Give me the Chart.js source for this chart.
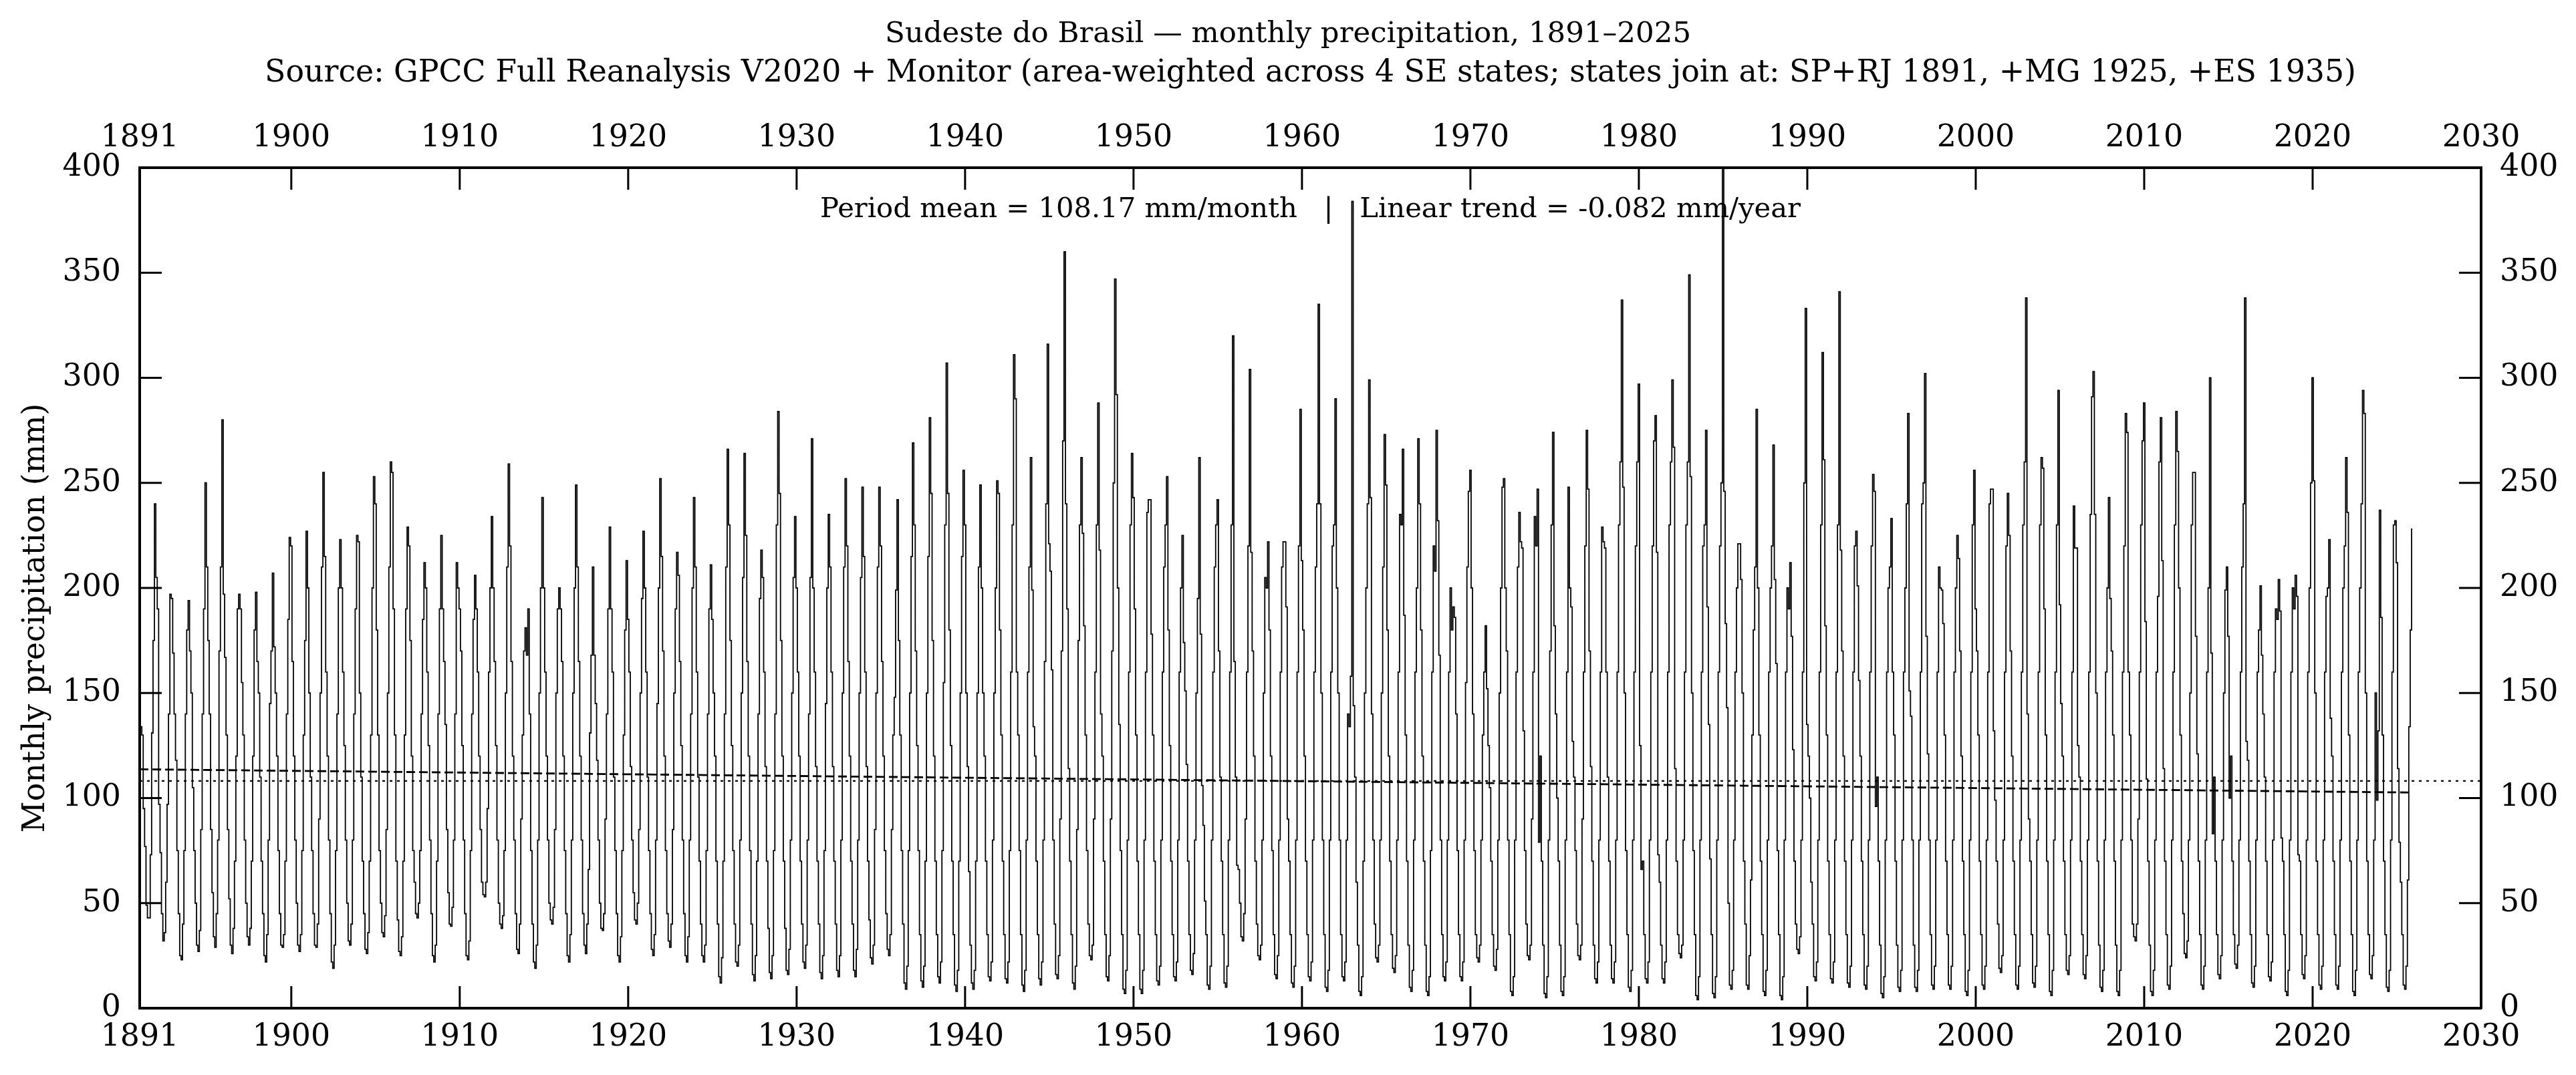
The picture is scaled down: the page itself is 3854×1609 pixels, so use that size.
<!DOCTYPE html>
<html>
<head>
<meta charset="utf-8">
<script src="https://cdn.jsdelivr.net/npm/chart.js@4.4.1/dist/chart.umd.min.js"></script>
<style>
  html, body { margin: 0; padding: 0; background: #fff; }
</style>
</head>
<body>
<canvas id="precipChart" width="3854" height="1609"></canvas>
<script>
// Monthly precipitation (mm), one row per year, Jan..Dec
const firstYear = 1891;

const precip1891to1920 = [
  [175, 134, 130, 95, 77, 49, 43, 43, 73, 131, 175, 240],
  [205, 190, 97, 74, 45, 32, 36, 60, 97, 140, 197, 195],
  [169, 140, 118, 75, 45, 25, 23, 40, 75, 140, 180, 194],
  [170, 150, 105, 75, 50, 30, 27, 37, 85, 140, 190, 250],
  [210, 175, 140, 85, 55, 34, 29, 45, 80, 170, 210, 280],
  [197, 167, 130, 85, 52, 30, 26, 38, 70, 120, 190, 197],
  [190, 155, 130, 80, 50, 34, 30, 38, 70, 120, 180, 198],
  [165, 150, 110, 70, 45, 25, 22, 35, 80, 145, 170, 207],
  [172, 150, 120, 75, 45, 30, 29, 35, 70, 140, 185, 224],
  [220, 165, 120, 80, 50, 30, 27, 35, 75, 130, 175, 227],
  [200, 150, 110, 75, 45, 30, 29, 40, 90, 150, 210, 255],
  [215, 160, 120, 80, 45, 22, 19, 30, 75, 140, 200, 223],
  [200, 160, 125, 80, 50, 32, 30, 40, 80, 140, 190, 225],
  [222, 150, 110, 70, 45, 28, 26, 36, 70, 130, 200, 253],
  [240, 180, 130, 75, 50, 36, 34, 44, 85, 150, 210, 260],
  [255, 190, 130, 70, 42, 27, 25, 34, 70, 130, 190, 229],
  [220, 175, 120, 75, 60, 45, 43, 50, 75, 140, 185, 212],
  [200, 160, 125, 80, 45, 25, 22, 30, 70, 140, 190, 225],
  [190, 165, 135, 85, 55, 40, 39, 48, 80, 140, 212, 200],
  [190, 170, 125, 80, 45, 25, 23, 32, 75, 140, 185, 206],
  [190, 160, 120, 85, 60, 54, 53, 60, 95, 160, 200, 234],
  [200, 165, 125, 80, 50, 40, 38, 44, 75, 150, 210, 259],
  [220, 165, 120, 80, 45, 28, 26, 40, 90, 130, 170, 181],
  [168, 190, 140, 75, 40, 22, 19, 30, 80, 150, 200, 243],
  [200, 160, 120, 80, 50, 42, 40, 48, 85, 150, 190, 200],
  [190, 165, 120, 75, 45, 25, 22, 35, 80, 150, 200, 249],
  [210, 165, 120, 80, 45, 30, 26, 40, 66, 131, 168, 210],
  [168, 145, 118, 80, 50, 38, 37, 45, 90, 140, 190, 229],
  [190, 160, 110, 75, 45, 25, 22, 34, 75, 130, 180, 213],
  [185, 160, 115, 80, 55, 42, 40, 50, 85, 150, 195, 227]
];

const precip1921to1950 = [
  [200, 160, 110, 75, 45, 28, 25, 35, 80, 145, 200, 252],
  [215, 170, 120, 75, 45, 32, 29, 40, 85, 150, 190, 217],
  [206, 165, 125, 80, 45, 25, 22, 34, 80, 140, 200, 243],
  [210, 160, 110, 70, 40, 25, 22, 30, 75, 140, 190, 211],
  [185, 150, 120, 70, 40, 15, 12, 24, 70, 140, 210, 266],
  [230, 175, 125, 75, 40, 22, 20, 30, 80, 150, 205, 264],
  [225, 165, 120, 75, 40, 16, 13, 25, 70, 140, 195, 218],
  [205, 160, 115, 70, 38, 17, 14, 25, 75, 140, 230, 284],
  [245, 175, 120, 70, 38, 18, 16, 28, 80, 150, 205, 234],
  [200, 160, 120, 70, 40, 22, 19, 30, 80, 140, 205, 271],
  [200, 160, 115, 70, 40, 17, 14, 25, 75, 145, 200, 235],
  [210, 160, 115, 70, 40, 18, 15, 25, 80, 150, 210, 252],
  [220, 165, 120, 70, 40, 18, 15, 28, 80, 150, 205, 248],
  [215, 160, 115, 70, 42, 24, 21, 30, 85, 150, 210, 248],
  [220, 165, 120, 75, 45, 28, 25, 35, 85, 130, 148, 199],
  [242, 175, 130, 75, 40, 12, 9, 20, 75, 150, 215, 269],
  [230, 170, 125, 75, 35, 13, 10, 20, 70, 150, 215, 281],
  [245, 175, 120, 70, 35, 15, 12, 22, 75, 155, 230, 307],
  [245, 180, 125, 70, 35, 11, 8, 18, 70, 150, 215, 256],
  [230, 150, 115, 65, 30, 12, 9, 18, 70, 150, 210, 249],
  [200, 150, 120, 70, 35, 15, 13, 22, 80, 150, 200, 251],
  [245, 180, 130, 70, 35, 14, 12, 22, 75, 160, 230, 311],
  [290, 160, 130, 75, 35, 11, 8, 18, 80, 160, 210, 262],
  [199, 134, 120, 70, 35, 14, 11, 22, 80, 165, 240, 316],
  [221, 208, 161, 80, 40, 16, 14, 25, 90, 170, 270, 360],
  [240, 190, 114, 70, 35, 12, 9, 20, 85, 175, 230, 262],
  [226, 182, 130, 75, 40, 25, 23, 30, 90, 160, 230, 288],
  [218, 140, 120, 70, 35, 15, 13, 25, 90, 170, 250, 347],
  [292, 200, 135, 75, 35, 9, 7, 18, 80, 160, 230, 264],
  [243, 190, 130, 70, 35, 9, 7, 18, 80, 160, 236, 242]
];

const precip1951to1980 = [
  [242, 178, 130, 70, 35, 13, 11, 20, 80, 160, 210, 230],
  [253, 180, 125, 70, 35, 15, 13, 22, 80, 160, 200, 225],
  [174, 151, 116, 70, 35, 18, 16, 26, 80, 150, 195, 262],
  [178, 106, 87, 51, 35, 11, 9, 20, 80, 160, 210, 230],
  [242, 170, 110, 70, 35, 12, 10, 20, 80, 160, 230, 320],
  [165, 110, 68, 66, 50, 34, 32, 45, 90, 160, 220, 304],
  [217, 170, 120, 70, 40, 25, 23, 30, 80, 150, 205, 200],
  [222, 180, 120, 75, 35, 16, 14, 25, 80, 160, 210, 222],
  [222, 191, 90, 70, 35, 12, 10, 20, 80, 160, 220, 285],
  [213, 180, 120, 70, 35, 15, 13, 22, 80, 160, 210, 240],
  [335, 240, 150, 80, 35, 10, 8, 18, 80, 160, 220, 230],
  [290, 200, 150, 80, 35, 15, 13, 22, 80, 140, 134, 158],
  [384, 144, 110, 60, 30, 8, 6, 15, 70, 150, 200, 240],
  [299, 243, 140, 80, 40, 24, 22, 30, 80, 150, 210, 273],
  [249, 180, 120, 70, 35, 19, 17, 25, 80, 160, 235, 230],
  [266, 187, 130, 70, 30, 10, 8, 18, 80, 160, 200, 271],
  [240, 180, 120, 70, 30, 8, 6, 15, 75, 160, 220, 208],
  [275, 232, 168, 80, 35, 15, 13, 22, 80, 160, 200, 180],
  [191, 186, 140, 75, 35, 15, 13, 22, 80, 155, 210, 246],
  [256, 200, 140, 75, 35, 24, 22, 30, 80, 130, 160, 182],
  [152, 125, 105, 70, 35, 20, 18, 28, 80, 150, 200, 248],
  [252, 200, 170, 80, 35, 8, 6, 15, 80, 160, 210, 236],
  [222, 219, 132, 75, 40, 25, 23, 30, 90, 160, 234, 220],
  [247, 79, 120, 70, 30, 7, 5, 15, 80, 170, 230, 274],
  [182, 140, 100, 70, 30, 8, 6, 15, 80, 160, 248, 200],
  [191, 127, 110, 75, 40, 25, 23, 30, 90, 160, 220, 275],
  [247, 170, 115, 70, 30, 14, 12, 22, 80, 160, 229, 222],
  [219, 160, 110, 70, 30, 14, 12, 22, 80, 160, 230, 260],
  [337, 248, 150, 75, 35, 10, 8, 18, 80, 160, 220, 260],
  [297, 125, 66, 70, 35, 14, 12, 22, 80, 160, 220, 270]
];

const precip1981to2010 = [
  [282, 217, 73, 60, 30, 14, 12, 22, 80, 160, 230, 260],
  [299, 267, 114, 70, 35, 26, 24, 30, 80, 160, 230, 260],
  [349, 253, 150, 75, 35, 6, 4, 15, 80, 160, 220, 230],
  [275, 191, 135, 71, 35, 7, 5, 15, 80, 160, 220, 250],
  [405, 246, 183, 143, 50, 11, 9, 18, 80, 160, 200, 221],
  [221, 204, 150, 70, 40, 11, 9, 25, 61, 130, 180, 210],
  [285, 200, 130, 70, 35, 8, 6, 18, 80, 160, 200, 220],
  [268, 204, 164, 75, 35, 6, 4, 15, 80, 160, 200, 190],
  [212, 177, 123, 70, 40, 28, 26, 34, 80, 160, 250, 333],
  [135, 120, 100, 60, 40, 15, 13, 22, 80, 160, 230, 312],
  [261, 182, 130, 70, 35, 14, 12, 22, 80, 160, 230, 341],
  [218, 170, 120, 70, 35, 12, 10, 20, 80, 160, 220, 227],
  [201, 156, 120, 70, 35, 11, 9, 20, 80, 160, 220, 254],
  [246, 96, 110, 70, 30, 7, 5, 15, 80, 160, 200, 210],
  [233, 160, 130, 70, 30, 10, 8, 18, 80, 160, 200, 240],
  [283, 151, 139, 80, 30, 10, 8, 18, 80, 160, 240, 250],
  [302, 177, 121, 80, 35, 11, 9, 20, 80, 160, 210, 200],
  [199, 183, 130, 70, 35, 11, 9, 20, 80, 160, 200, 225],
  [214, 170, 120, 70, 35, 8, 6, 18, 80, 160, 230, 256],
  [190, 170, 130, 70, 35, 11, 9, 20, 80, 160, 240, 247],
  [247, 132, 99, 70, 40, 19, 17, 25, 80, 160, 220, 245],
  [225, 170, 120, 70, 35, 11, 9, 20, 80, 160, 230, 260],
  [338, 140, 90, 70, 35, 12, 10, 20, 80, 160, 230, 262],
  [257, 190, 130, 70, 35, 8, 6, 18, 80, 160, 230, 294],
  [192, 145, 120, 70, 35, 18, 16, 25, 80, 160, 239, 219],
  [219, 125, 110, 70, 35, 16, 14, 25, 80, 160, 235, 291],
  [303, 235, 150, 70, 30, 10, 8, 18, 80, 160, 200, 243],
  [195, 170, 130, 70, 30, 8, 6, 18, 80, 160, 220, 283],
  [274, 160, 130, 80, 40, 34, 32, 40, 90, 160, 230, 270],
  [288, 184, 109, 70, 30, 8, 6, 18, 80, 160, 196, 260]
];

const precip2011to2025 = [
  [281, 213, 114, 70, 35, 11, 9, 20, 80, 160, 230, 284],
  [265, 200, 130, 70, 45, 26, 24, 32, 80, 150, 230, 255],
  [255, 177, 121, 70, 35, 11, 9, 20, 80, 160, 200, 300],
  [169, 83, 110, 70, 35, 16, 14, 25, 80, 150, 199, 210],
  [177, 100, 120, 70, 35, 21, 19, 30, 80, 160, 210, 240],
  [338, 127, 118, 70, 35, 12, 10, 20, 80, 160, 180, 201],
  [168, 140, 110, 70, 35, 15, 13, 22, 80, 160, 190, 185],
  [204, 189, 81, 70, 35, 8, 6, 18, 80, 160, 200, 190],
  [206, 196, 73, 70, 35, 16, 14, 25, 80, 160, 200, 250],
  [300, 251, 150, 70, 35, 11, 9, 20, 80, 160, 196, 200],
  [223, 138, 120, 70, 35, 11, 9, 20, 80, 160, 200, 220],
  [262, 236, 130, 70, 35, 8, 6, 18, 80, 160, 200, 240],
  [294, 283, 150, 70, 35, 16, 14, 25, 80, 150, 99, 132],
  [237, 186, 130, 70, 35, 10, 8, 18, 80, 160, 230, 232],
  [212, 114, 79, 60, 35, 11, 9, 20, 61, 134, 180, 228]
];

const periodMean = 108.17;   // mm/month
const trendSlope = -0.082;   // mm/year
const xTickYears = [1891, 1900, 1910, 1920, 1930, 1940, 1950, 1960, 1970, 1980, 1990, 2000, 2010, 2020, 2030];
const yTickValues = [0, 50, 100, 150, 200, 250, 300, 350, 400];

const titleMain = 'Sudeste do Brasil \u2014 monthly precipitation, 1891\u20132025';
const titleSource = 'Source: GPCC Full Reanalysis V2020 + Monitor (area-weighted across 4 SE states; states join at: SP+RJ 1891, +MG 1925, +ES 1935)';
const statsNote = 'Period mean = 108.17 mm/month   |   Linear trend = -0.082 mm/year';
const yTitle = 'Monthly precipitation (mm)';

// Build monthly points
const allRows = [].concat(precip1891to1920, precip1921to1950, precip1951to1980, precip1981to2010, precip2011to2025);
const points = [];
allRows.forEach((row, i) => {
  row.forEach((v, m) => points.push({ x: firstYear + i + m / 12, y: v }));
});

const lastX = points[points.length - 1].x;
const midX = (firstYear + lastX) / 2;
const meanPoints = [{ x: 1891, y: periodMean }, { x: 2030, y: periodMean }];
const trendPoints = [
  { x: firstYear, y: periodMean + trendSlope * (firstYear - midX) },
  { x: lastX, y: periodMean + trendSlope * (lastX - midX) }
];

const FONT = 'DejaVu Serif';
const tickFont = { family: FONT, size: 45.8 };

// inward tick marks on all four sides
const inwardTicks = {
  id: 'inwardTicks',
  afterDatasetsDraw(chart) {
    const { ctx, chartArea: a, scales } = chart;
    ctx.save();
    ctx.strokeStyle = '#000';
    ctx.lineWidth = 3;
    ctx.beginPath();
    xTickYears.forEach(v => {
      const px = scales.x.getPixelForValue(v);
      ctx.moveTo(px, a.bottom); ctx.lineTo(px, a.bottom - 33);
      ctx.moveTo(px, a.top); ctx.lineTo(px, a.top + 33);
    });
    yTickValues.forEach(v => {
      const py = scales.y.getPixelForValue(v);
      ctx.moveTo(a.left, py); ctx.lineTo(a.left + 33, py);
      ctx.moveTo(a.right, py); ctx.lineTo(a.right - 33, py);
    });
    ctx.stroke();
    ctx.restore();
  }
};

// titles, note and y label
const textLayer = {
  id: 'textLayer',
  afterDraw(chart) {
    const { ctx, chartArea: a, width } = chart;
    ctx.save();
    ctx.fillStyle = '#000';
    ctx.textAlign = 'center';
    ctx.textBaseline = 'middle';
    ctx.font = '43.5px "' + FONT + '"';
    ctx.fillText(titleMain, width / 2, 52);
    ctx.font = '45.8px "' + FONT + '"';
    ctx.fillText(titleSource, (a.left + a.right) / 2, 110);
    ctx.font = '41.7px "' + FONT + '"';
    ctx.fillText(statsNote, (a.left + a.right) / 2, 314);
    ctx.font = '45.8px "' + FONT + '"';
    ctx.translate(54, 925);
    ctx.rotate(-Math.PI / 2);
    ctx.fillText(yTitle, 0, 0);
    ctx.restore();
  }
};

function axisCommon(extra) {
  return Object.assign({
    grid: { display: false, drawTicks: false },
    border: { display: true, color: '#000', width: 4 }
  }, extra);
}

const ctx = document.getElementById('precipChart').getContext('2d');
new Chart(ctx, {
  type: 'line',
  data: {
    datasets: [
      { data: points, borderColor: '#000', borderWidth: 1.8, pointRadius: 0, stepped: 'middle', fill: false, xAxisID: 'x', yAxisID: 'y' },
      { data: meanPoints, borderColor: '#000', borderWidth: 2.2, borderDash: [4, 7], pointRadius: 0, fill: false, xAxisID: 'x', yAxisID: 'y' },
      { data: trendPoints, borderColor: '#000', borderWidth: 2.8, borderDash: [13, 6], pointRadius: 0, fill: false, xAxisID: 'x', yAxisID: 'y' }
    ]
  },
  options: {
    responsive: false,
    animation: false,
    devicePixelRatio: 1,
    layout: { padding: 0 },
    plugins: { legend: { display: false }, tooltip: { enabled: false }, title: { display: false } },
    scales: {
      x: axisCommon({
        type: 'linear', position: 'bottom', min: 1891, max: 2030,
        afterBuildTicks: s => { s.ticks = xTickYears.map(v => ({ value: v })); },
        afterFit: s => { s.height = 100; },
        ticks: { font: tickFont, color: '#000', maxRotation: 0, autoSkip: false, padding: 17, callback: v => String(v) }
      }),
      x2: axisCommon({
        type: 'linear', position: 'top', min: 1891, max: 2030,
        afterBuildTicks: s => { s.ticks = xTickYears.map(v => ({ value: v })); },
        afterFit: s => { s.height = 251; },
        ticks: { font: tickFont, color: '#000', maxRotation: 0, autoSkip: false, padding: 16, callback: v => String(v) }
      }),
      y: axisCommon({
        type: 'linear', position: 'left', min: 0, max: 400,
        afterBuildTicks: s => { s.ticks = yTickValues.map(v => ({ value: v })); },
        afterFit: s => { s.width = 209; },
        ticks: { font: tickFont, color: '#000', autoSkip: false, padding: 28, callback: v => String(v) }
      }),
      y2: axisCommon({
        type: 'linear', position: 'right', min: 0, max: 400,
        afterBuildTicks: s => { s.ticks = yTickValues.map(v => ({ value: v })); },
        afterFit: s => { s.width = 142; },
        ticks: { font: tickFont, color: '#000', autoSkip: false, padding: 28, callback: v => String(v) }
      })
    }
  },
  plugins: [inwardTicks, textLayer]
});
</script>
</body>
</html>
